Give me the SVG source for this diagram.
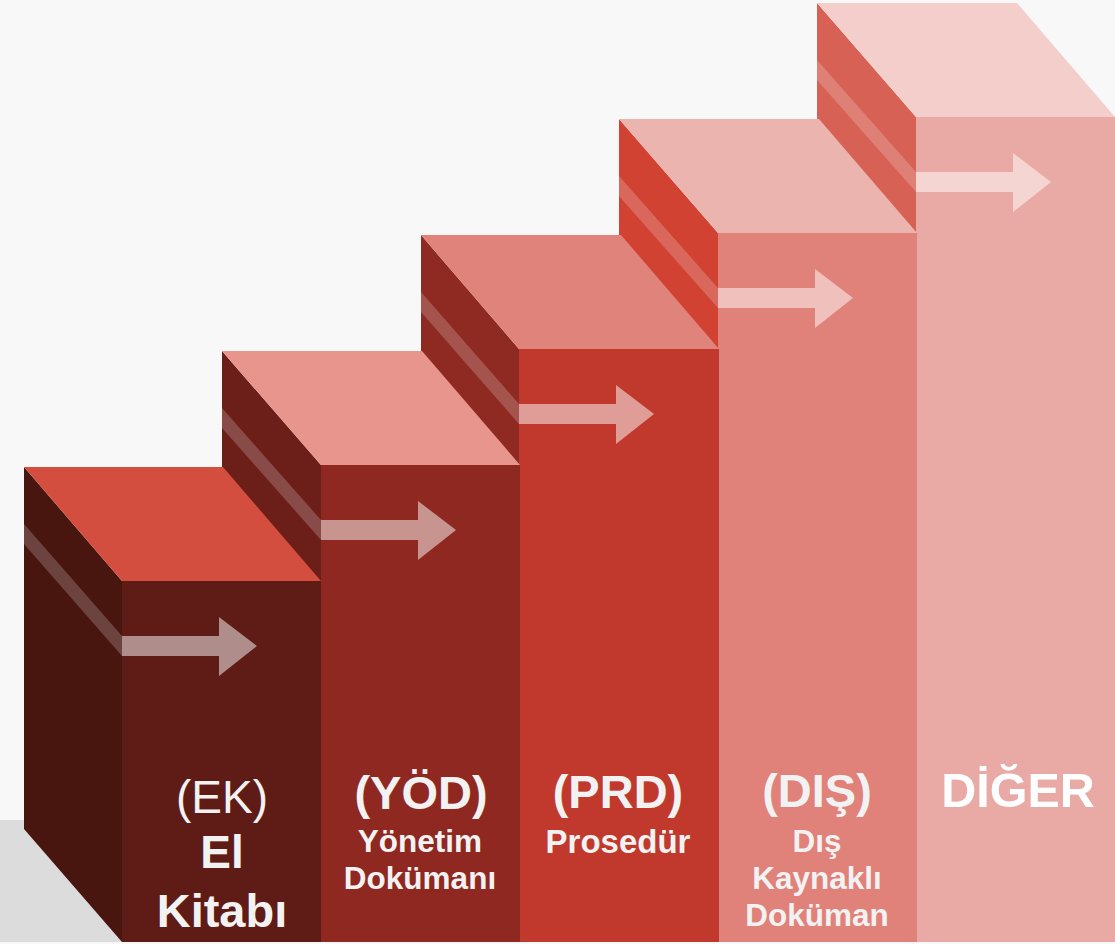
<svg xmlns="http://www.w3.org/2000/svg" width="1115" height="944" viewBox="0 0 1115 944">
  <style>
    .t { font-family: "Liberation Sans", Arial, sans-serif; fill: #f2f2f2; text-anchor: middle; }
    .b { font-weight: bold; }
    .title { font-size: 47px; }
    .sub { font-size: 31.5px; font-weight: bold; }
    .stripe { fill: #ffffff; fill-opacity: 0.2; }
    .arrow { fill: #ffffff; fill-opacity: 0.5; }
  </style>
  <rect id="background" x="0" y="0" width="1115" height="944" fill="#f8f8f8"/>
  <rect id="floor" x="0" y="820" width="1115" height="122" fill="#dcdcdc"/>

  <g id="col-diger">
    <polygon points="817,3 916,117 916,942 817,829" fill="#d66154"/>
    <polygon points="817,3 1017,3 1115,117 916,117" fill="#f3cecb"/>
    <rect x="916" y="117" width="199" height="825" fill="#e9aaa5"/>
    <text class="t b title" x="1018" y="807" style="fill:#ffffff;font-size:48.5px">DİĞER</text>
  </g>

  <g id="col-dis">
    <polygon points="619,119 718,233 718,942 619,829" fill="#d14232"/>
    <polygon points="619,119 819,119 917,233 718,233" fill="#ecb4af"/>
    <rect x="718" y="233" width="199" height="709" fill="#e0817a"/>
    <text class="t b title" x="817" y="807">(DIŞ)</text>
    <text class="t sub" x="817" y="852">Dış</text>
    <text class="t sub" x="817" y="889">Kaynaklı</text>
    <text class="t sub" x="817" y="926">Doküman</text>
  </g>

  <g id="col-prd">
    <polygon points="421,235 519,349 519,942 421,829" fill="#8e2a21"/>
    <polygon points="421,235 621,235 719,349 519,349" fill="#e0837a"/>
    <rect x="519" y="349" width="200" height="593" fill="#c0392c"/>
    <text class="t b title" x="618" y="808">(PRD)</text>
    <text class="t sub" x="618" y="853" style="font-size:33px">Prosedür</text>
  </g>

  <g id="col-yod">
    <polygon points="222,351 321,465 321,942 222,829" fill="#6c1e19"/>
    <polygon points="222,351 422,351 520,465 321,465" fill="#e8968d"/>
    <rect x="321" y="465" width="199" height="477" fill="#8e2820"/>
    <text class="t b title" x="421" y="809">(YÖD)</text>
    <text class="t sub" x="420" y="852">Yönetim</text>
    <text class="t sub" x="420" y="889">Dokümanı</text>
  </g>

  <g id="col-ek">
    <polygon points="24,467 122,581 122,942 24,829" fill="#48150f"/>
    <polygon points="24,467 223,467 321,581 122,581" fill="#d44e3f"/>
    <rect x="122" y="581" width="199" height="361" fill="#5f1b16"/>
    <text class="t" x="222" y="813" style="font-size:46px">(EK)</text>
    <text class="t b" x="222" y="868" style="font-size:46px">El</text>
    <text class="t b" x="222" y="927" style="font-size:47px">Kitabı</text>
  </g>

  <g id="connectors">
    <g id="arrow-ek">
      <polygon class="stripe" points="24,524 122,636 122,656 24,544"/>
      <polygon class="arrow" points="122,636 219,636 219,617 257,646 219,676 219,656 122,656"/>
    </g>
    <g id="arrow-yod">
      <polygon class="stripe" points="222,408 321,520 321,540 222,428"/>
      <polygon class="arrow" points="321,520 418,520 418,501 456,530 418,560 418,540 321,540"/>
    </g>
    <g id="arrow-prd">
      <polygon class="stripe" points="421,292 519,404 519,424 421,312"/>
      <polygon class="arrow" points="519,404 616,404 616,385 654,414 616,444 616,424 519,424"/>
    </g>
    <g id="arrow-dis">
      <polygon class="stripe" points="619,176 718,288 718,308 619,196"/>
      <polygon class="arrow" points="718,288 815,288 815,269 853,298 815,328 815,308 718,308"/>
    </g>
    <g id="arrow-diger">
      <polygon class="stripe" points="817,60 916,172 916,192 817,80"/>
      <polygon class="arrow" points="916,172 1013,172 1013,153 1051,182 1013,212 1013,192 916,192"/>
    </g>
  </g>
</svg>
